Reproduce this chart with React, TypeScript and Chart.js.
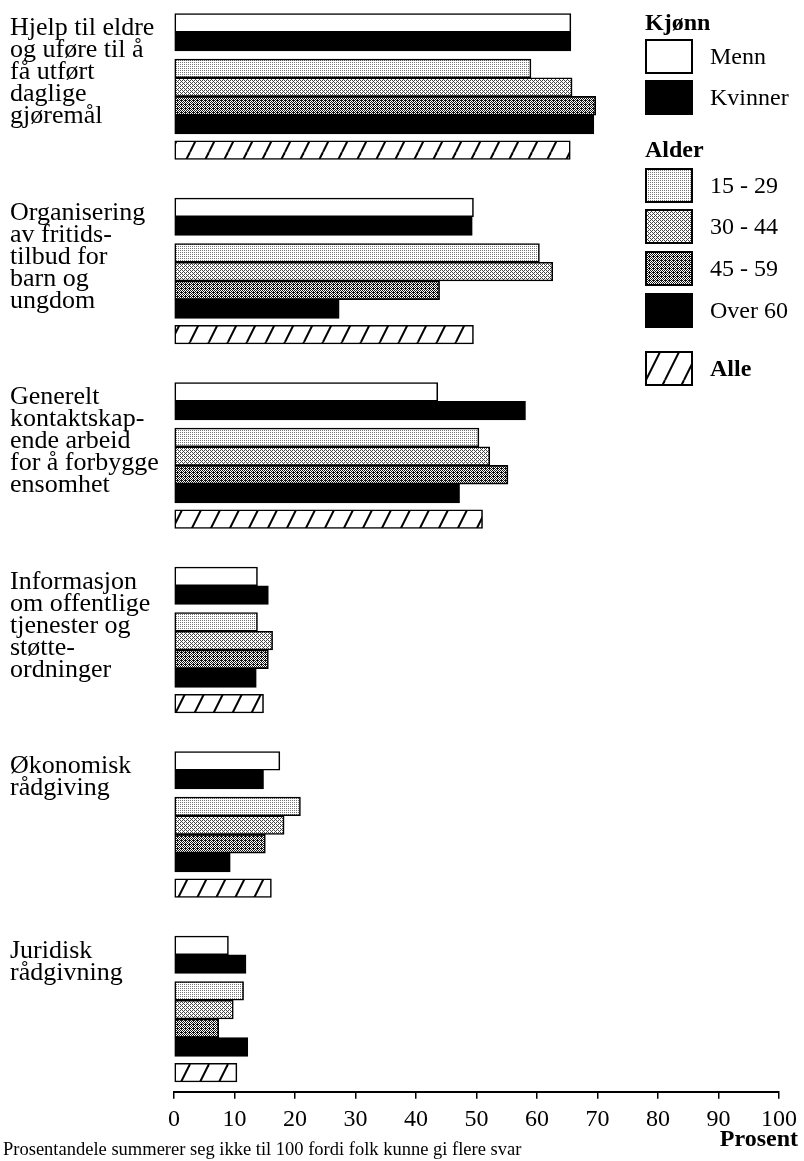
import React, { useEffect, useRef } from "react";
import { Chart, registerables } from "chart.js";
Chart.register(...registerables);

// ---------- DATA ----------
const categories: string[][] = [
  ["Hjelp til eldre", "og uføre til å", "få utført", "daglige", "gjøremål"],
  ["Organisering", "av fritids-", "tilbud for", "barn og", "ungdom"],
  ["Generelt", "kontaktskap-", "ende arbeid", "for å forbygge", "ensomhet"],
  ["Informasjon", "om offentlige", "tjenester og", "støtte-", "ordninger"],
  ["Økonomisk", "rådgiving"],
  ["Juridisk", "rådgivning"],
];
const seriesNames = ["Menn", "Kvinner", "15 - 29", "30 - 44", "45 - 59", "Over 60", "Alle"];
const menn = [65.6, 49.5, 43.6, 13.8, 17.5, 9.0];
const kvinner = [65.6, 49.3, 58.1, 15.6, 14.8, 11.9];
const age15_29 = [59.0, 60.4, 50.4, 13.8, 20.9, 11.5];
const age30_44 = [65.8, 62.6, 52.2, 16.3, 18.2, 9.8];
const age45_59 = [69.7, 43.9, 55.2, 15.6, 15.1, 7.4];
const over60 = [69.4, 27.3, 47.2, 13.6, 9.3, 12.2];
const alle = [65.5, 49.5, 51.0, 14.8, 16.1, 10.4];
const xTickValues = [0, 10, 20, 30, 40, 50, 60, 70, 80, 90, 100];
const legendHeadings = ["Kjønn", "Alder"];
const axisTitle = "Prosent";
const footnote = "Prosentandele summerer seg ikke til 100 fordi folk kunne gi flere svar";

// ---------- LAYOUT (slots on the y axis) ----------
const PITCH = 9.86;
const ROW = [0, 1, 2.43, 3.43, 4.43, 5.43, 6.8];
const Y_MIN = -1;
const Y_MAX = 57.12;
const SERIF = "'Liberation Serif', 'Times New Roman', serif";

const BAYER = [
  [0, 8, 2, 10],
  [12, 4, 14, 6],
  [3, 11, 1, 9],
  [15, 7, 13, 5],
];

function dotPattern(ctx: CanvasRenderingContext2D, density: number, dot: string): CanvasPattern | string {
  const c = document.createElement("canvas");
  c.width = 4;
  c.height = 4;
  const g = c.getContext("2d")!;
  g.fillStyle = "#fff";
  g.fillRect(0, 0, 4, 4);
  g.fillStyle = dot;
  for (let i = 0; i < 4; i++)
    for (let j = 0; j < 4; j++) if (BAYER[i][j] < density * 16) g.fillRect(j, i, 1, 1);
  return ctx.createPattern(c, "repeat") || dot;
}

function hatchPattern(ctx: CanvasRenderingContext2D): CanvasPattern | string {
  const w = 19, h = 38;
  const c = document.createElement("canvas");
  c.width = w;
  c.height = h;
  const g = c.getContext("2d")!;
  g.fillStyle = "#fff";
  g.fillRect(0, 0, w, h);
  g.strokeStyle = "#000";
  g.lineWidth = 2;
  for (const off of [-w, 0, w]) {
    g.beginPath();
    g.moveTo(off, h);
    g.lineTo(off + w, 0);
    g.stroke();
  }
  return ctx.createPattern(c, "repeat") || "#fff";
}

export default function App() {
  const ref = useRef<HTMLCanvasElement | null>(null);

  useEffect(() => {
    const canvas = ref.current!;
    const ctx = canvas.getContext("2d")!;
    const fills = [
      "#ffffff",
      "#000000",
      dotPattern(ctx, 0.19, "#777"),
      dotPattern(ctx, 0.32, "#444"),
      dotPattern(ctx, 0.56, "#111"),
      dotPattern(ctx, 0.94, "#000"),
      hatchPattern(ctx),
    ];
    const series = [menn, kvinner, age15_29, age30_44, age45_59, over60, alle];

    const datasets = series.map((vals, s) => ({
      label: seriesNames[s],
      data: vals.map((v, g) => ({ x: v, y: g * PITCH + ROW[s] })),
      backgroundColor: fills[s] as any,
      borderColor: "#000",
      borderWidth: 1.6,
      borderSkipped: false as any,
      grouped: false,
      barPercentage: 1,
      categoryPercentage: 1,
    }));

    const overlay = {
      id: "overlay",
      afterDraw(chart: any) {
        const c = chart.ctx as CanvasRenderingContext2D;
        const y = chart.scales.y;
        const slot = Math.abs(y.getPixelForValue(1) - y.getPixelForValue(0));
        c.save();
        c.fillStyle = "#000";
        c.textAlign = "left";
        c.textBaseline = "alphabetic";
        // group labels
        c.font = `26px ${SERIF}`;
        categories.forEach((lines, g) => {
          const top = y.getPixelForValue(g * PITCH) - slot / 2;
          lines.forEach((ln, k) => c.fillText(ln, 10, top + 21.7 + k * 22));
        });
        // legend
        const boxY = [39, 80, 168, 209, 251, 293, 351];
        const boxX = 645, boxW = 48, boxH = 35;
        c.font = `bold 24px ${SERIF}`;
        c.fillText(legendHeadings[0], 645, 30);
        c.fillText(legendHeadings[1], 645, 157);
        boxY.forEach((by, s) => {
          c.fillStyle = fills[s] as any;
          c.fillRect(boxX, by, boxW, boxH);
          c.strokeStyle = "#000";
          c.lineWidth = 2;
          c.strokeRect(boxX + 1, by + 1, boxW - 2, boxH - 2);
          c.fillStyle = "#000";
          c.font = s === 6 ? `bold 24px ${SERIF}` : `24px ${SERIF}`;
          c.textBaseline = "middle";
          c.fillText(seriesNames[s], 710, by + boxH / 2 + 1);
          c.textBaseline = "alphabetic";
        });
        // axis title + footnote
        c.font = `bold 24px ${SERIF}`;
        c.textAlign = "right";
        c.fillText(axisTitle, 798, 1146);
        c.textAlign = "left";
        c.font = `18.5px ${SERIF}`;
        c.fillText(footnote, 3, 1155);
        c.restore();
      },
    };

    const chart = new Chart(canvas, {
      type: "bar",
      data: { datasets: datasets as any },
      options: {
        indexAxis: "y",
        responsive: false,
        animation: false,
        devicePixelRatio: 1,
        layout: { padding: { left: 174, right: 20, top: 4.19, bottom: 24.3 } },
        plugins: { legend: { display: false }, tooltip: { enabled: false } },
        scales: {
          y: {
            type: "linear",
            reverse: true,
            offset: false,
            bounds: "data",
            grace: 0,
            min: Y_MIN,
            max: Y_MAX,
            display: false,
            grid: { offset: false },
            afterDataLimits: (s: any) => {
              s.min = Y_MIN;
              s.max = Y_MAX;
            },
            afterBuildTicks: (s: any) => {
              s.ticks = [{ value: Y_MIN }, { value: Y_MAX }];
            },
          },
          x: {
            type: "linear",
            min: 0,
            max: 100,
            afterFit: (s: any) => {
              s.height = 45;
            },
            afterBuildTicks: (s: any) => {
              s.ticks = xTickValues.map((v) => ({ value: v }));
            },
            ticks: {
              color: "#000",
              font: { family: SERIF, size: 24 },
              padding: 7,
              maxRotation: 0,
              autoSkip: false,
            },
            grid: {
              drawOnChartArea: false,
              drawTicks: true,
              tickLength: 7,
              color: "#000",
              lineWidth: 1.5,
            },
            border: { display: true, color: "#000", width: 2 },
          },
        },
      },
      plugins: [overlay],
    } as any);
    return () => chart.destroy();
  }, []);

  return (
    <div style={{ position: "absolute", left: 0, top: 0, width: 804, height: 1161, background: "#fff" }}>
      <canvas ref={ref} width={804} height={1161} style={{ display: "block" }} />
    </div>
  );
}
